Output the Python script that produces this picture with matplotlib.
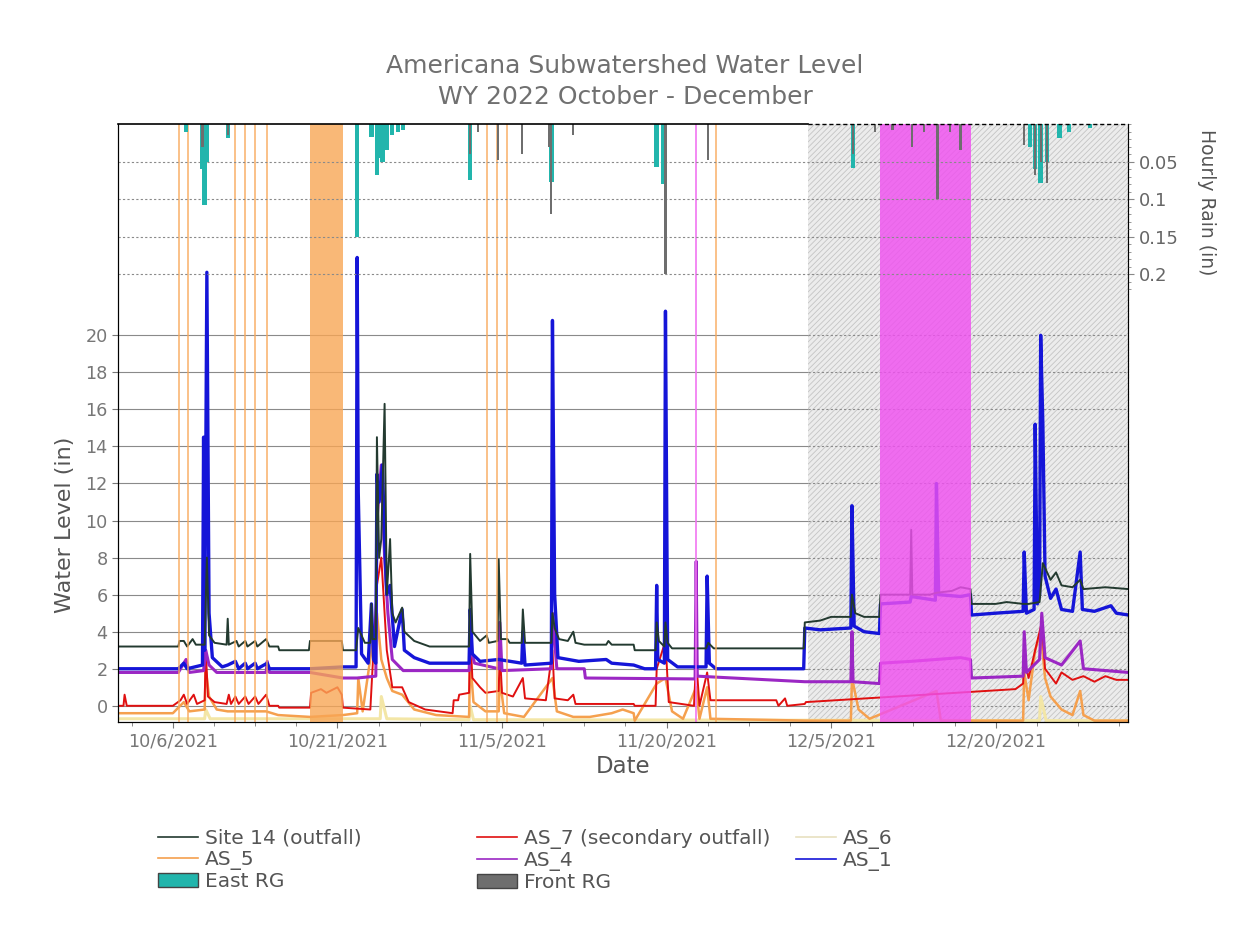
import matplotlib.pyplot as plt
import matplotlib.dates as mdates
from matplotlib.lines import Line2D
from matplotlib.patches import Patch
from matplotlib.ticker import FixedLocator
from datetime import datetime, timedelta

plt.rcParams['hatch.linewidth'] = 0.6

start = datetime(2021, 10, 1)

# water level (in), x = days since 10/1/2021
site14_day = [0, 5.5, 5.6, 6.0, 6.3, 6.8, 7.1, 7.9, 8.1, 8.3, 8.8, 9.9, 10.0, 10.1, 10.8, 11.0, 11.6, 11.8,
              12.5, 12.7, 13.5, 13.8, 14.6, 14.7, 17.4, 17.5, 20.4, 20.5, 21.7, 21.9, 22.5, 23.0, 23.1, 23.2,
              23.5, 23.6, 23.8, 24.0, 24.3, 24.5, 24.8, 25.0, 25.3, 25.9, 26.1, 27.0, 28.4, 32.0, 32.1, 32.3,
              33.0, 33.6, 33.8, 34.6, 34.7, 34.9, 35.5, 35.7, 36.8, 36.9, 37.1, 39.5, 39.6, 39.8, 40.2, 41.0,
              41.5, 41.7, 42.5, 44.5, 44.7, 45.0, 47.0, 47.1, 49.0, 49.1, 49.3, 49.8, 49.9, 50.1, 50.5, 53.6,
              53.8, 54.3, 62.5, 62.6, 64.0, 65.0, 66.8, 66.9, 67.2, 68.0, 69.4, 69.5, 72.2, 72.3, 72.4, 74.0,
              74.6, 76.0, 76.8, 77.7, 77.8, 80.0, 81.0, 82.5, 83.0, 84.0, 84.3, 85.0, 85.5, 86.0, 87.0, 87.7,
              88.0, 90.0, 92.1]
site14_in = [3.2, 3.2, 3.5, 3.5, 3.2, 3.6, 3.3, 3.3, 8.0, 3.8, 3.4, 3.3, 4.7, 3.3, 3.5, 3.2, 3.5, 3.2,
             3.5, 3.2, 3.6, 3.2, 3.2, 3.0, 3.0, 3.5, 3.5, 3.0, 3.0, 4.2, 3.4, 3.4, 5.5, 3.6,
             3.6, 14.5, 8.0, 9.0, 16.3, 6.0, 9.0, 5.0, 4.5, 5.3, 4.0, 3.5, 3.2, 3.2, 8.2, 4.0,
             3.5, 3.8, 3.4, 3.5, 7.9, 3.6, 3.6, 3.4, 3.4, 5.2, 3.4, 3.4, 5.0, 4.2, 3.6, 3.5,
             4.0, 3.4, 3.3, 3.3, 3.5, 3.3, 3.3, 3.0, 3.0, 4.5, 3.5, 3.2, 4.5, 3.4, 3.1, 3.1,
             3.4, 3.1, 3.1, 4.5, 4.6, 4.8, 4.8, 6.0, 5.0, 4.8, 4.8, 6.0, 6.0, 9.5, 6.0, 6.0,
             6.1, 6.2, 6.4, 6.3, 5.5, 5.5, 5.6, 5.5, 5.5, 5.6, 7.7, 6.8, 7.2, 6.5, 6.4, 6.8,
             6.3, 6.4, 6.3]

as1_day = [0, 5.5, 6.0, 6.3, 7.0, 7.7, 7.8, 7.9, 8.1, 8.3, 8.6, 9.5, 10.0, 10.7, 11.0, 11.6, 11.8, 12.5,
           12.7, 13.6, 13.8, 17.5, 20.5, 21.7, 21.8, 21.9, 22.2, 22.8, 23.1, 23.3, 23.5, 23.6, 23.8, 24.1,
           24.3, 24.5, 24.8, 25.2, 25.9, 26.1, 27.0, 28.4, 32.0, 32.1, 32.3, 33.0, 34.7, 36.8, 36.9, 37.1,
           39.5, 39.6, 39.8, 40.1, 42.0, 44.5, 45.0, 47.0, 48.0, 49.0, 49.1, 49.2, 49.8, 49.9, 50.1, 51.0,
           53.6, 53.7, 53.9, 54.5, 62.5, 62.6, 64.0, 66.8, 66.9, 67.1, 68.0, 69.4, 69.5, 72.2, 72.3, 74.5,
           74.6, 74.8, 76.8, 77.7, 77.8, 80.0, 82.5, 82.6, 82.8, 83.5, 83.6, 83.8, 84.0, 84.1, 84.3, 84.5,
           85.0, 85.5, 86.0, 87.0, 87.7, 87.9, 89.0, 90.5, 91.0, 92.1]
as1_in = [2.0, 2.0, 2.3, 2.0, 2.1, 2.2, 14.5, 3.0, 23.4, 5.0, 2.6, 2.1, 2.2, 2.4, 2.0, 2.3, 2.0, 2.3,
          2.0, 2.3, 2.0, 2.0, 2.1, 2.1, 24.2, 11.5, 2.8, 2.3, 5.5, 2.5, 2.3, 12.5, 11.0, 13.0,
          9.0, 6.0, 6.5, 3.2, 5.2, 3.0, 2.6, 2.3, 2.3, 5.2, 2.8, 2.4, 2.5, 2.3, 4.0, 2.2,
          2.3, 20.8, 6.0, 2.6, 2.4, 2.5, 2.3, 2.2, 2.0, 2.0, 6.5, 2.5, 2.3, 21.3, 2.5, 2.1,
          2.1, 7.0, 2.3, 2.0, 2.0, 4.2, 4.1, 4.2, 10.8, 4.3, 4.0, 3.9, 5.5, 5.6, 5.9, 5.7,
          12.0, 6.0, 5.9, 6.0, 4.9, 5.0, 5.1, 8.3, 5.0, 5.2, 15.2, 5.5, 6.0, 20.0, 15.2, 7.0,
          5.8, 6.3, 5.2, 5.1, 8.3, 5.2, 5.1, 5.4, 5.0, 4.9]

as4_day = [0, 5.5, 6.2, 6.5, 7.8, 8.0, 8.3, 9.0, 13.5, 13.6, 13.8, 17.5, 20.5, 21.8, 23.5, 23.6, 24.0,
           24.3, 24.6, 25.0, 26.0, 32.0, 32.1, 32.5, 34.7, 34.8, 35.0, 39.5, 39.6, 40.0, 42.5, 42.6, 52.6,
           52.7, 52.8, 62.6, 66.8, 66.9, 67.0, 69.4, 69.5, 72.3, 76.8, 77.7, 77.8, 82.5, 82.6, 82.8, 84.0,
           84.2, 84.5, 86.0, 87.7, 88.0, 92.1]
as4_in = [1.8, 1.8, 2.5, 1.8, 1.9, 3.0, 2.2, 1.8, 1.8, 2.4, 1.8, 1.8, 1.5, 1.5, 1.6, 10.0, 13.0,
          8.0, 5.0, 2.5, 1.9, 1.9, 3.2, 2.3, 2.0, 4.5, 1.9, 2.0, 5.0, 2.0, 2.0, 1.5, 1.45,
          7.8, 1.6, 1.3, 1.3, 4.0, 1.3, 1.2, 2.3, 2.4, 2.6, 2.5, 1.5, 1.6, 4.0, 1.8, 2.5,
          5.0, 2.6, 2.2, 3.5, 2.0, 1.8]

as7_day = [0, 0.5, 0.6, 0.8, 5.0, 5.7, 6.0, 6.3, 6.9, 7.2, 7.9, 8.0, 8.2, 8.8, 9.9, 10.1, 10.3, 10.7,
           11.0, 11.6, 11.9, 12.5, 12.8, 13.5, 13.8, 14.6, 14.7, 17.5, 17.6, 18.5, 19.0, 20.0, 20.4, 20.5,
           23.0, 23.6, 24.0, 24.5, 25.0, 25.9, 26.5, 28.0, 30.5, 30.6, 31.0, 31.1, 32.0, 32.1, 32.3, 33.0,
           33.5, 34.7, 34.8, 35.0, 36.0, 36.9, 37.1, 39.0, 39.6, 39.8, 41.0, 41.5, 41.7, 47.0, 47.1, 49.0,
           49.1, 49.9, 50.2, 52.5, 52.7, 53.0, 53.7, 54.0, 60.0, 60.2, 60.8, 61.0, 62.6, 62.7, 81.8, 82.5,
           82.6, 83.0, 83.6, 84.2, 84.5, 85.5, 86.0, 87.0, 88.0, 89.0, 90.0, 91.0, 92.1]
as7_in = [0.0, 0.0, 0.6, 0.0, 0.0, 0.3, 0.6, 0.1, 0.6, 0.1, 0.3, 3.0, 0.5, 0.2, 0.1, 0.6, 0.1, 0.5,
          0.1, 0.5, 0.1, 0.5, 0.1, 0.6, 0.0, 0.0, -0.1, -0.1, 0.7, 0.9, 0.7, 1.0, 0.6, -0.1,
          -0.2, 6.5, 8.0, 3.0, 1.0, 1.0, 0.2, -0.2, -0.4, 0.3, 0.3, 0.6, 0.7, 4.0, 1.5, 1.0,
          0.7, 0.8, 3.0, 0.7, 0.5, 1.5, 0.4, 0.3, 3.0, 0.4, 0.3, 0.6, 0.1, 0.1, 0.0, 0.0,
          2.0, 3.5, 0.2, 0.0, 2.5, 0.0, 1.8, 0.3, 0.3, 0.0, 0.4, 0.0, 0.1, 0.2, 0.9, 1.2,
          2.5, 1.5, 3.0, 4.5, 2.0, 1.2, 1.8, 1.4, 1.6, 1.3, 1.6, 1.4, 1.4]

as5_day = [0, 5.0, 6.0, 6.5, 7.9, 8.0, 8.3, 9.0, 10.0, 13.5, 14.6, 17.5, 20.5, 21.8, 21.9, 22.3, 23.6,
           24.0, 24.5, 25.0, 25.9, 27.0, 29.0, 32.0, 32.1, 32.4, 33.5, 34.7, 34.8, 35.2, 37.0, 39.6, 40.0,
           41.5, 43.0, 45.0, 46.0, 47.0, 47.1, 49.1, 49.9, 50.5, 51.5, 52.7, 53.0, 53.7, 54.0, 62.6, 66.8,
           66.9, 67.5, 68.5, 74.6, 75.0, 82.5, 82.6, 83.0, 83.6, 84.1, 84.5, 85.0, 86.0, 87.0, 87.7, 88.0,
           89.0, 92.1]
as5_in = [-0.4, -0.4, 0.2, -0.3, -0.2, 2.0, 0.5, -0.2, -0.3, -0.3, -0.5, -0.6, -0.5, -0.4, 1.5, -0.3, 5.0,
          2.5, 1.5, 0.8, 0.6, -0.2, -0.5, -0.6, 2.5, 0.2, -0.3, -0.3, 1.5, -0.4, -0.6, 1.5, -0.3,
          -0.6, -0.6, -0.4, -0.2, -0.4, -0.8, 1.2, 1.5, -0.3, -0.7, 1.0, -0.7, 1.0, -0.7, -0.8, -0.8,
          1.5, -0.2, -0.7, 0.8, -0.8, -0.8, 1.8, 0.3, 3.0, 4.0, 1.5, 0.5, -0.2, -0.5, 0.8, -0.5,
          -0.8, -0.8]

as6_day = [0, 7.9, 8.0, 8.4, 23.9, 24.0, 24.5, 32.0, 32.1, 32.4, 84.0, 84.1, 84.6, 92.1]
as6_in = [-0.7, -0.7, -0.2, -0.7, -0.7, 0.5, -0.7, -0.75, 0.0, -0.75, -0.8, 0.5, -0.8, -0.8]

# hourly rain (in)
rain_day = [6.2, 7.7, 7.9, 8.05, 10.0, 21.8, 23.1, 23.6, 23.9, 24.1, 24.5, 25.0, 25.5, 26.0, 32.1, 32.8,
            34.6, 36.8, 39.3, 39.5, 41.5, 49.1, 49.7, 49.9, 53.8, 67.0, 69.0, 70.6, 72.4, 73.5, 74.7,
            75.8, 76.8, 82.6, 83.1, 83.6, 84.1, 84.7, 85.8, 86.7, 88.6]
east_rg = [0.01, 0.06, 0.108, 0.05, 0.019, 0.15, 0.017, 0.068, 0.045, 0.05, 0.035, 0.015, 0.01, 0.008, 0.075, 0.0,
           0.0, 0.0, 0.0, 0.077, 0.0, 0.057, 0.08, 0.0, 0.0, 0.058, 0.0, 0.0, 0.0, 0.0, 0.0,
           0.0, 0.0, 0.0, 0.03, 0.06, 0.079, 0.05, 0.018, 0.01, 0.005]
front_rg = [0.0, 0.03, 0.0, 0.0, 0.015, 0.0, 0.0, 0.0, 0.0, 0.0, 0.0, 0.0, 0.0, 0.0, 0.04, 0.01,
            0.048, 0.04, 0.03, 0.12, 0.015, 0.0, 0.0, 0.2, 0.048, 0.04, 0.01, 0.008, 0.03, 0.01, 0.1,
            0.01, 0.035, 0.028, 0.0, 0.068, 0.05, 0.079, 0.0, 0.0, 0.0]

# flagged periods (days since 10/1)
as5_flag_lines = [5.56, 6.38, 10.67, 11.58, 12.49, 13.58, 33.64, 34.55, 35.46, 54.5]
as5_flag_band = (17.5, 20.5)
as4_flag_line = 52.69
as4_flag_band = (69.46, 77.76)
prelim_start = 62.9
end_day = 92.06


def dates(days):
    return [start + timedelta(days=d) for d in days]


fig = plt.figure(figsize=(12.5, 9.4), dpi=100)
ax = fig.add_axes([0.0944, 0.232, 0.808, 0.636])
ax2 = ax.twinx()

t0 = start
t_pre = start + timedelta(days=prelim_start)
t_end = start + timedelta(days=end_day)

# preliminary data region
ax.axvspan(t_pre, t_end, facecolor='#ececec', edgecolor='#c4c4c4', hatch='//////', lw=0, zorder=0)

# gridlines: solid before preliminary region, dotted inside it
water_ticks = list(range(0, 21, 2))
ax.hlines(water_ticks, t0, t_pre, color='#8a8a8a', lw=0.8, zorder=1)
ax.hlines(water_ticks, t_pre, t_end, color='#8a8a8a', lw=0.8, linestyles=(0, (2, 2)), zorder=1)

ax.plot(dates(as6_day), as6_in, color='#f3e6a6', lw=2.2, zorder=2)
ax.plot(dates(as5_day), as5_in, color='#f5a04e', lw=1.8, zorder=2)
ax.plot(dates(as7_day), as7_in, color='#e01010', lw=1.4, zorder=2)
ax.plot(dates(as4_day), as4_in, color='#9b27c4', lw=2.2, zorder=2)
ax.plot(dates(as1_day), as1_in, color='#1515d8', lw=2.4, zorder=2)
ax.plot(dates(site14_day), site14_in, color='#233a30', lw=1.4, zorder=2)

for d in as5_flag_lines:
    ax.axvspan(start + timedelta(days=d - 0.12), start + timedelta(days=d + 0.12), color='#f9a95a',
               alpha=0.7, lw=0, zorder=3)
ax.axvspan(start + timedelta(days=as5_flag_band[0]), start + timedelta(days=as5_flag_band[1]),
           color='#f8a655', alpha=0.8, lw=0, zorder=3)
ax.axvspan(start + timedelta(days=as4_flag_line - 0.12), start + timedelta(days=as4_flag_line + 0.12),
           color='#f070f0', alpha=0.8, lw=0, zorder=3)
ax.axvspan(start + timedelta(days=as4_flag_band[0]), start + timedelta(days=as4_flag_band[1]),
           color='#f050f0', alpha=0.82, lw=0, zorder=3)

ax.set_ylim(-0.87, 31.4)
ax.set_yticks(water_ticks)
ax.set_xlim(t0, t_end)
ax.xaxis.set_major_locator(FixedLocator([mdates.date2num(start + timedelta(days=5 + 15 * i)) for i in range(6)]))
ax.xaxis.set_minor_locator(FixedLocator([mdates.date2num(start + timedelta(days=1.25 + 3.75 * i)) for i in range(25)]))
ax.xaxis.set_major_formatter(mdates.DateFormatter('%-m/%-d/%Y'))
ax.tick_params(axis='both', colors='#777777', labelsize=12.7, length=4)
ax.tick_params(axis='x', which='minor', colors='#777777', length=3)
ax.set_xlabel('Date', fontsize=16.5, color='#555555', labelpad=3)
ax.set_ylabel('Water Level (in)', fontsize=16, color='#555555')
ax.yaxis.set_label_coords(-0.043, 0.33)
for lab in ax.get_xticklabels() + ax.get_yticklabels():
    lab.set_color('#777777')

# rain on inverted right axis
ax2.bar(dates(rain_day), east_rg, width=0.4, color='#22b5ac', lw=0, zorder=2)
ax2.bar(dates(rain_day), front_rg, width=0.2, color='#6e6e6e', lw=0, zorder=3)
ax2.set_ylim(0.797, 0)
ax2.set_yticks([0.05, 0.1, 0.15, 0.2])
ax2.set_yticklabels(['0.05', '0.1', '0.15', '0.2'])
ax2.yaxis.set_minor_locator(FixedLocator([i * 0.01 for i in range(23)]))
ax2.tick_params(axis='y', colors='#888888', labelsize=13, length=4)
ax2.tick_params(axis='y', which='minor', colors='#888888', length=2)
for lab in ax2.get_yticklabels():
    lab.set_color('#666666')
ax2.yaxis.grid(True, color='#8a8a8a', lw=0.8, ls=(0, (2, 2)))
ax2.set_ylabel('Hourly Rain (in)', fontsize=13.5, color='#555555', rotation=-90)
ax2.yaxis.set_label_coords(1.087, 0.87)

# top / right frame dashed over the preliminary region
frac = prelim_start / end_day
for a in (ax, ax2):
    a.spines['top'].set_visible(False)
ax2.spines['right'].set_linestyle((0, (3, 2)))
ax2.plot([0, frac], [1, 1], transform=ax2.transAxes, color='black', lw=1.2, clip_on=False, zorder=5)
ax2.plot([frac, 1], [1, 1], transform=ax2.transAxes, color='black', lw=1.0, ls=(0, (3, 2)),
         clip_on=False, zorder=5)

fig.suptitle('Americana Subwatershed Water Level\nWY 2022 October - December', fontsize=18,
             color='#707070', y=0.943, linespacing=1.38)

# legend in three columns placed separately
legend_cols = [
    ([Line2D([], [], color='#233a30', lw=1.2), Line2D([], [], color='#f5a04e', lw=1.2),
      Patch(facecolor='#22b5ac', edgecolor='#444444')],
     ['Site 14 (outfall)', 'AS_5', 'East RG'], 158),
    ([Line2D([], [], color='#e01010', lw=1.2), Line2D([], [], color='#9b27c4', lw=1.2),
      Patch(facecolor='#6e6e6e', edgecolor='#444444')],
     ['AS_7 (secondary outfall)', 'AS_4', 'Front RG'], 477),
    ([Line2D([], [], color='#e8e0c0', lw=1.2), Line2D([], [], color='#1515d8', lw=1.2)],
     ['AS_6', 'AS_1'], 796),
]
for col_handles, col_labels, xpix in legend_cols:
    leg = fig.legend(col_handles, col_labels, loc='upper left', bbox_to_anchor=(xpix / 1250, 1 - 829 / 940),
                     frameon=False, fontsize=14.5, handlelength=2.0, labelspacing=0.1, handletextpad=0.35,
                     borderpad=0, borderaxespad=0)
    for t in leg.get_texts():
        t.set_color('#555555')

fig.savefig('out.png', dpi=100)
